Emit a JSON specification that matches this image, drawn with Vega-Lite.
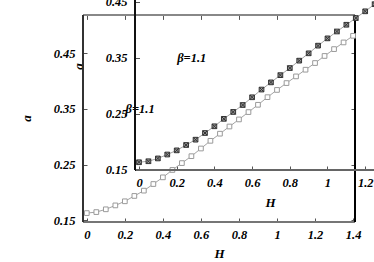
{
  "$schema": "https://vega.github.io/schema/vega-lite/v6.json",
  "width": 291,
  "height": 222,
  "autosize": {"type": "none"},
  "padding": {"left": 83, "top": 0, "right": 0, "bottom": 40},
  "background": "white",
  "config": {
    "view": {"stroke": null},
    "axis": {
      "grid": false,
      "domain": false,
      "labelFont": "Liberation Serif",
      "labelFontSize": 12.5,
      "labelFontStyle": "italic",
      "labelFontWeight": "bold",
      "labelColor": "#000",
      "titleFont": "Liberation Serif",
      "titleFontSize": 13,
      "titleFontStyle": "italic",
      "titleFontWeight": "bold",
      "titleColor": "#000",
      "tickColor": "#555",
      "tickSize": -4,
      "labelFlush": false,
      "labelOverlap": false
    }
  },
  "datasets": {
    "curve": [
      {"H": 0, "a": 0.163},
      {"H": 0.05, "a": 0.1648},
      {"H": 0.1, "a": 0.1698},
      {"H": 0.15, "a": 0.1768},
      {"H": 0.2, "a": 0.1842},
      {"H": 0.25, "a": 0.1938},
      {"H": 0.3, "a": 0.2033},
      {"H": 0.35, "a": 0.2152},
      {"H": 0.4, "a": 0.2272},
      {"H": 0.45, "a": 0.2405},
      {"H": 0.5, "a": 0.2528},
      {"H": 0.55, "a": 0.2652},
      {"H": 0.6, "a": 0.279},
      {"H": 0.65, "a": 0.2928},
      {"H": 0.7, "a": 0.3056},
      {"H": 0.75, "a": 0.3185},
      {"H": 0.8, "a": 0.3312},
      {"H": 0.85, "a": 0.3444},
      {"H": 0.9, "a": 0.3575},
      {"H": 0.95, "a": 0.3712},
      {"H": 1.0, "a": 0.3842},
      {"H": 1.05, "a": 0.3965},
      {"H": 1.1, "a": 0.4085},
      {"H": 1.15, "a": 0.4205},
      {"H": 1.2, "a": 0.4325},
      {"H": 1.25, "a": 0.4452},
      {"H": 1.3, "a": 0.4575},
      {"H": 1.35, "a": 0.4695},
      {"H": 1.4, "a": 0.4814}
    ],
    "lab": [{"H": 0.28, "a": 0.35, "label": "β=1.1"}]
  },
  "layer": [
    {
      "data": {"name": "curve"},
      "encoding": {
        "x": {
          "field": "H", "type": "quantitative",
          "scale": {"domain": [-0.02, 1.51], "nice": false, "zero": false},
          "axis": {"orient": "bottom", "values": [0, 0.2, 0.4, 0.6, 0.8, 1, 1.2, 1.4], "format": ".1~f", "labelPadding": 10.5, "title": "H", "titleX": 136, "titleY": 31, "titleBaseline": "middle", "titleAlign": "center"}
        },
        "y": {
          "field": "a", "type": "quantitative",
          "scale": {"domain": [0.147, 0.5457], "nice": false, "zero": false},
          "axis": {"orient": "left", "values": [0.15, 0.25, 0.35, 0.45], "format": ".2f", "labelPadding": 12, "title": "a", "titleX": -57, "titleY": 118, "titleBaseline": "middle", "titleAlign": "center"}
        }
      },
      "layer": [
        {"mark": {"type": "rule", "color": "#777", "strokeWidth": 1.2}, "encoding": {"x": {"datum": -0.02, "type": "quantitative"}, "x2": {"datum": 1.41}, "y": {"datum": 0.147, "type": "quantitative"}}},
        {"mark": {"type": "rule", "color": "#888", "strokeWidth": 1.2}, "encoding": {"x": {"datum": -0.02, "type": "quantitative"}, "x2": {"datum": 1.41}, "y": {"datum": 0.518, "type": "quantitative"}}},
        {"mark": {"type": "rule", "color": "#333", "strokeWidth": 1.2}, "encoding": {"x": {"datum": -0.02, "type": "quantitative"}, "y": {"datum": 0.147, "type": "quantitative"}, "y2": {"datum": 0.518}}},
        {"mark": {"type": "rule", "color": "#000", "strokeWidth": 1.2}, "encoding": {"x": {"datum": 1.41, "type": "quantitative"}, "y": {"datum": 0.147, "type": "quantitative"}, "y2": {"datum": 0.518}}},
        {"mark": {"type": "line", "color": "#8c8c8c", "strokeWidth": 0.8}},
        {"mark": {"type": "point", "shape": "square", "size": 22, "filled": false, "fill": "white", "fillOpacity": 1, "stroke": "#9a9a9a", "strokeWidth": 1, "opacity": 1}},
        {"data": {"name": "lab"}, "mark": {"type": "text", "font": "Liberation Serif", "fontSize": 12.5, "fontStyle": "italic", "fontWeight": "bold", "color": "#000", "align": "center", "baseline": "middle"}, "encoding": {"text": {"field": "label"}}}
      ]
    },
    {
      "data": {"name": "curve"},
      "encoding": {
        "x": {
          "field": "H", "type": "quantitative",
          "scale": {"domain": [-0.2971, 1.2467], "nice": false, "zero": false},
          "axis": {"orient": "bottom", "offset": -52, "values": [0, 0.2, 0.4, 0.6, 0.8, 1, 1.2], "format": ".1~f", "labelPadding": 10.5, "title": "H", "titleX": 187, "titleY": 32, "titleBaseline": "middle", "titleAlign": "center"}
        },
        "y": {
          "field": "a", "type": "quantitative",
          "scale": {"domain": [0.0563, 0.4527], "nice": false, "zero": false},
          "axis": {"orient": "left", "offset": -52.5, "values": [0.15, 0.25, 0.35, 0.45], "format": ".2f", "labelPadding": 12.5, "title": "a", "titleX": -57.5, "titleY": 66, "titleBaseline": "middle", "titleAlign": "center"}
        }
      },
      "layer": [
        {"mark": {"type": "rule", "color": "#666", "strokeWidth": 1.2}, "encoding": {"x": {"datum": -0.019, "type": "quantitative"}, "x2": {"datum": 1.6}, "y": {"datum": 0.149, "type": "quantitative"}}},
        {"mark": {"type": "rule", "color": "#111", "strokeWidth": 1.2}, "encoding": {"x": {"datum": -0.019, "type": "quantitative"}, "y": {"datum": 0.149, "type": "quantitative"}, "y2": {"datum": 0.5}}},
        {"mark": {"type": "line", "color": "#8c8c8c", "strokeWidth": 0.8}},
        {"mark": {"type": "point", "shape": "M-1,-1H1V1H-1Z M-1,-1L1,1 M1,-1L-1,1", "size": 22, "filled": false, "fill": "#9a9a9a", "fillOpacity": 1, "stroke": "#333", "strokeWidth": 1, "opacity": 1}},
        {"data": {"name": "lab"}, "mark": {"type": "text", "font": "Liberation Serif", "fontSize": 12.5, "fontStyle": "italic", "fontWeight": "bold", "color": "#000", "align": "center", "baseline": "middle"}, "encoding": {"text": {"field": "label"}}}
      ]
    },
    {
      "data": {"name": "curve"},
      "mark": {"type": "point", "opacity": 0},
      "encoding": {
        "x": {
          "field": "H", "type": "quantitative",
          "scale": {"domain": [-0.02, 1.51], "nice": false, "zero": false},
          "axis": {"orient": "top", "offset": -15.4, "labels": false, "title": null, "values": [0, 0.2, 0.4, 0.6, 0.8, 1, 1.2, 1.4]}
        },
        "y": {
          "field": "a", "type": "quantitative",
          "scale": {"domain": [0.147, 0.5457], "nice": false, "zero": false},
          "axis": {"orient": "right", "offset": -19, "labels": false, "title": null, "values": [0.15, 0.25, 0.35, 0.45]}
        }
      }
    }
  ],
  "resolve": {
    "scale": {"x": "independent", "y": "independent"},
    "axis": {"x": "independent", "y": "independent"}
  }
}
